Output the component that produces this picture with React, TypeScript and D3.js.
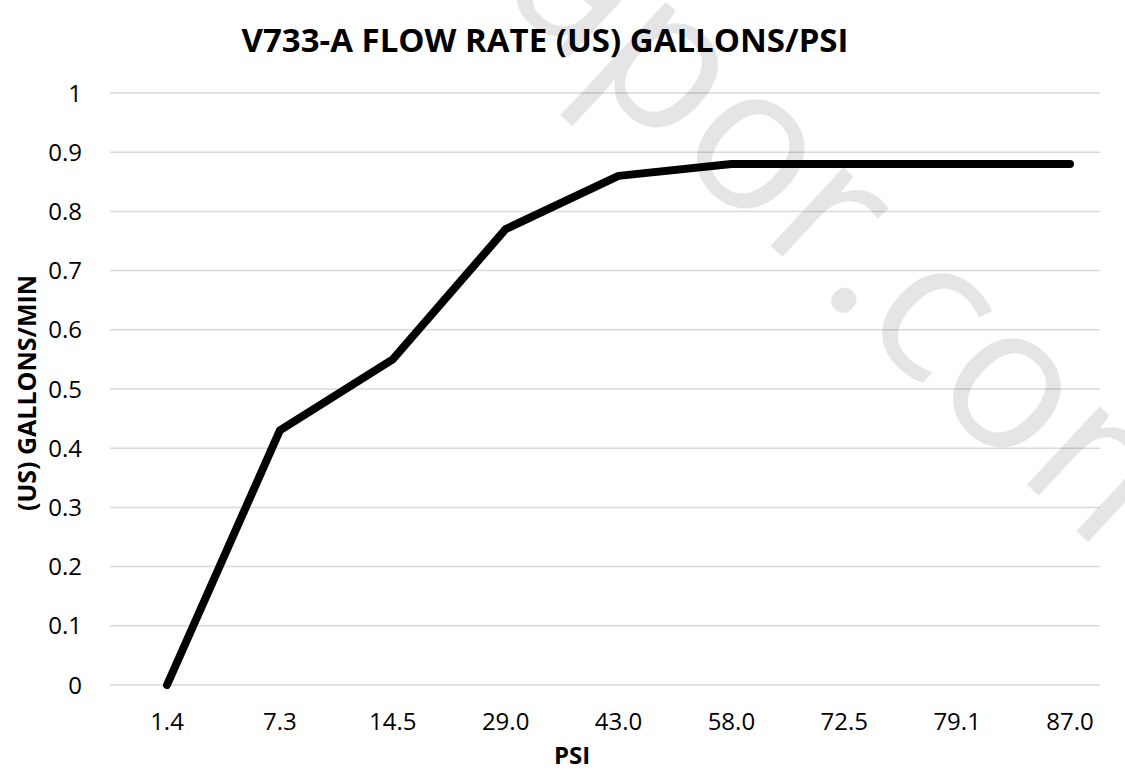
import React from "react";
import * as d3 from "d3";

const categories = ["1.4", "7.3", "14.5", "29.0", "43.0", "58.0", "72.5", "79.1", "87.0"];
const flowValues = [0, 0.43, 0.55, 0.77, 0.86, 0.88, 0.88, 0.88, 0.88];
const yTicks = [0, 0.1, 0.2, 0.3, 0.4, 0.5, 0.6, 0.7, 0.8, 0.9, 1];
const yTickLabels = ["0", "0.1", "0.2", "0.3", "0.4", "0.5", "0.6", "0.7", "0.8", "0.9", "1"];

const W = 1125;
const H = 771;
const font = "'Open Sans', 'Liberation Sans', sans-serif";

export default function App() {
  const x = d3.scalePoint<string>().domain(categories).range([167, 1070]);
  const y = d3.scaleLinear().domain([0, 1]).range([685, 93]);
  const line = d3
    .line<number>()
    .x((_, i) => x(categories[i]) as number)
    .y((d) => y(d));

  return (
    <svg
      width={W}
      height={H}
      style={{ position: "absolute", left: 0, top: 0, background: "#fff" }}
    >
      <rect x={0} y={0} width={W} height={H} fill="#fff" />
      {yTicks.map((t) => (
        <line key={t} x1={110} x2={1100} y1={y(t)} y2={y(t)} stroke="#d9d9d9" strokeWidth={1.5} />
      ))}
      <text
        x={0}
        y={0}
        transform="translate(788,262) rotate(43)"
        textAnchor="middle"
        fontFamily={font}
        fontSize={200}
        fill="#000"
        fillOpacity={0.1}
      >
        vapor.com
      </text>
      <text
        x={545}
        y={52}
        textAnchor="middle"
        fontFamily={font}
        fontWeight="bold"
        fontSize={33}
        fill="#000"
      >
        V733-A FLOW RATE (US) GALLONS/PSI
      </text>
      {yTicks.map((t, i) => (
        <text
          key={t}
          x={82}
          y={y(t)}
          dy="0.36em"
          textAnchor="end"
          fontFamily={font}
          fontSize={24}
          fill="#000"
        >
          {yTickLabels[i]}
        </text>
      ))}
      {categories.map((c) => (
        <text
          key={c}
          x={x(c)}
          y={730}
          textAnchor="middle"
          fontFamily={font}
          fontSize={24}
          fill="#000"
        >
          {c}
        </text>
      ))}
      <text
        x={572}
        y={764}
        textAnchor="middle"
        fontFamily={font}
        fontWeight="bold"
        fontSize={24}
        fill="#000"
      >
        PSI
      </text>
      <text
        transform="translate(36,393) rotate(-90)"
        textAnchor="middle"
        fontFamily={font}
        fontWeight="bold"
        fontSize={25}
        fill="#000"
      >
        (US) GALLONS/MIN
      </text>
      <path
        d={line(flowValues) || ""}
        fill="none"
        stroke="#000"
        strokeWidth={8}
        strokeLinejoin="round"
        strokeLinecap="round"
      />
    </svg>
  );
}
